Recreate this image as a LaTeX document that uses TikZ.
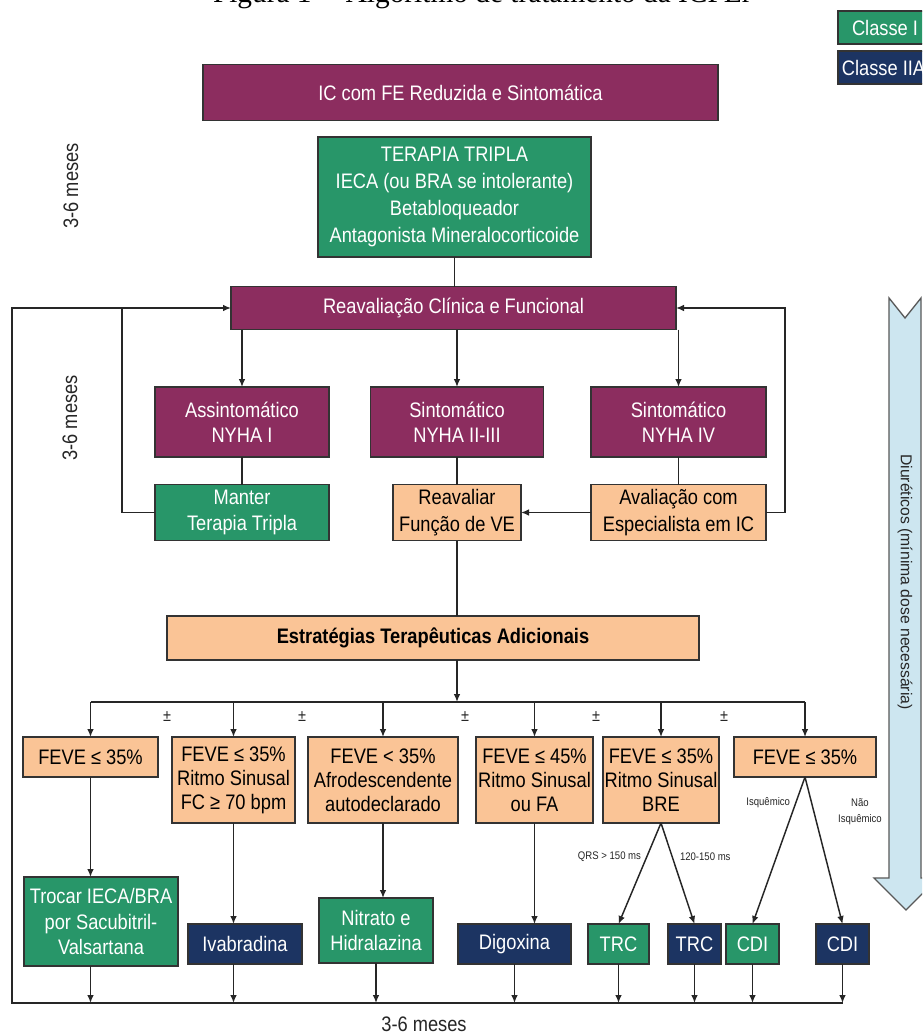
\documentclass[tikz,border=0pt]{standalone}
\usepackage{fontspec}
\setmainfont{Liberation Sans}[FakeStretch=0.87]
\newfontfamily\plainsans{Liberation Sans}
\newfontfamily\capserif{Liberation Serif}
\usetikzlibrary{arrows.meta}
\definecolor{icpurple}{RGB}{140,45,95}
\definecolor{icgreen}{RGB}{40,150,105}
\definecolor{icnavy}{RGB}{28,52,98}
\definecolor{icpeach}{RGB}{250,196,150}
\definecolor{arrowblue}{RGB}{205,230,240}
\begin{document}
\begin{tikzpicture}[x=0.75pt,y=-0.75pt,
  every node/.style={inner sep=0pt, outer sep=0pt},
  sz/.style 2 args={minimum width={#1*0.75pt}, minimum height={#2*0.75pt}},
  bx/.style={draw=black!80, line width=1.3pt, align=center, font=\fontsize{15.75}{19}\selectfont},
  pbox/.style={bx, fill=icpurple, text=white},
  gbox/.style={bx, fill=icgreen, text=white},
  nbox/.style={bx, fill=icnavy, text=white},
  obox/.style={bx, fill=icpeach, text=black, font=\fontsize{15.75}{18}\selectfont},
  conn/.style={draw=black!85, line width=1.1pt},
  arr/.style={conn, -{Latex[length=6pt,width=5pt]}},
  lbl/.style={font=\fontsize{15.75}{19}\selectfont, text=black!85},
  small/.style={font=\fontsize{8.25}{12}\selectfont, align=center, text=black!85},
  pm/.style={font=\fontsize{12.5}{14}\selectfont, text=black!85},
]
\useasboundingbox (0,0) rectangle (922,1034);
\fill[white] (0,0) rectangle (922,1034);
\begin{scope}
\clip (0,0) rectangle (922,1034);

% caption (cut off at the top edge)
\node[font=\capserif\fontsize{22}{24}\selectfont, anchor=base west, text=black] (cap) at (213,3) {Figura 1 -- Algoritmo de tratamento da ICFEr};

% legend
\node[gbox, sz={94}{33}] (leg1) at (885,27.5) {Classe I};
\node[nbox, sz={91}{33}] (leg2) at (883.5,67.5) {Classe IIA};

% diuretics arrow
\draw[fill=arrowblue, draw=black!65, line width=1pt]
  (889,298) -- (905,318) -- (921,298) -- (921,878) -- (938,878) -- (906,910)
  -- (874,878) -- (889,878) -- cycle;
\node[font=\plainsans\fontsize{11.8}{14}\selectfont, rotate=-90, text=black!85] (diur) at (905,582) {Diuréticos (mínima dose necessária)};

% main boxes
\node[pbox, sz={515}{56}] (top) at (460.5,92.5) {IC com FE Reduzida e Sintomática};
\node[gbox, sz={273}{120}, font=\fontsize{15.75}{20.25}\selectfont] (tripla) at (454.5,197) {TERAPIA TRIPLA\\IECA (ou BRA se intolerante)\\Betabloqueador\\Antagonista Mineralocorticoide};
\node[pbox, sz={445}{43}] (reav) at (453.5,308) {Reavaliação Clínica e Funcional};
\node[pbox, sz={174}{70}] (assin) at (242,422) {Assintomático\\NYHA I};
\node[pbox, sz={173}{70}] (sint23) at (457,422) {Sintomático\\NYHA II-III};
\node[pbox, sz={175}{70}] (sint4) at (678.5,422) {Sintomático\\NYHA IV};
\node[gbox, sz={174}{56}, font=\fontsize{15.75}{20}\selectfont] (manter) at (242,512.5) {Manter\\Terapia Tripla};
\node[obox, sz={128}{56}, font=\fontsize{15.75}{20}\selectfont] (reavf) at (457,512.5) {Reavaliar\\Função de VE};
\node[obox, sz={175}{56}, font=\fontsize{15.75}{20}\selectfont] (avali) at (678.5,512.5) {Avaliação com\\Especialista em IC};
\node[obox, sz={532}{44}, font=\bfseries\fontsize{15.75}{19}\selectfont] (estrat) at (433,638) {Estratégias Terapêuticas Adicionais};

% criteria boxes
\node[obox, sz={135}{40}] (f1) at (90.5,757) {FEVE ≤ 35\%};
\node[obox, sz={123}{86}] (f2) at (233.5,780) {FEVE ≤ 35\%\\Ritmo Sinusal\\FC ≥ 70 bpm};
\node[obox, sz={150}{86}] (f3) at (383,780) {FEVE < 35\%\\Afrodescendente\\autodeclarado};
\node[obox, sz={117}{86}] (f4) at (534.5,780) {FEVE ≤ 45\%\\Ritmo Sinusal\\ou FA};
\node[obox, sz={116}{86}] (f5) at (661,780) {FEVE ≤ 35\%\\Ritmo Sinusal\\BRE};
\node[obox, sz={142}{40}] (f6) at (805,757) {FEVE ≤ 35\%};

% treatment boxes
\node[gbox, sz={154}{89}] (t1) at (101,921.5) {Trocar IECA/BRA\\por Sacubitril-\\Valsartana};
\node[nbox, sz={114}{40}] (ivab) at (245,944) {Ivabradina};
\node[gbox, sz={114}{65}] (nitr) at (376,930.5) {Nitrato e\\Hidralazina};
\node[nbox, sz={113}{40}] (digo) at (514.5,944) {Digoxina};
\node[gbox, sz={61}{40}] (trc1) at (618.5,944) {TRC};
\node[nbox, sz={53}{40}] (trc2) at (694.5,944) {TRC};
\node[gbox, sz={53}{40}] (cdi1) at (752.5,944) {CDI};
\node[nbox, sz={53}{40}] (cdi2) at (842.5,944) {CDI};

% labels
\node[lbl, rotate=90] (m1) at (71,186) {3-6 meses};
\node[lbl, rotate=90] (m2) at (70,418) {3-6 meses};
\node[lbl] (m3) at (424,1024) {3-6 meses};
\node[pm] (pm1) at (167,717) {±};
\node[pm] (pm2) at (302,717) {±};
\node[pm] (pm3) at (465,717) {±};
\node[pm] (pm4) at (596,717) {±};
\node[pm] (pm5) at (724,717) {±};
\node[small, anchor=east] (qrs) at (641,857) {QRS > 150 ms};
\node[small, anchor=west] (q2) at (680,857) {120-150 ms};
\node[small, anchor=east] (isq) at (790,803) {Isquêmico};
\node[small] (nisq) at (860,812) {Não\\Isquêmico};

% connectors: upper part
\draw[conn] (tripla.south) -- (tripla.south |- reav.north);
\draw[arr] (reav.south -| assin.north) -- (assin.north);
\draw[arr] (reav.south -| sint23.north) -- (sint23.north);
\draw[arr] (reav.south -| sint4.north) -- (sint4.north);
\draw[conn] (assin.south) -- (manter.north);
\draw[conn] (sint23.south) -- (reavf.north);
\draw[conn] (sint4.south) -- (avali.north);
\draw[arr] (avali.west) -- (reavf.east);
\coordinate (ml) at (122,512.5);
\draw[conn] (manter.west) -- (ml) -- (ml |- reav.west);
\coordinate (rr) at (785,512.5);
\draw[arr] (avali.east) -- (rr) -- (rr |- reav.east) -- (reav.east);
\coordinate (bl) at (12,1003);
\draw[arr] (cdi2.south |- bl) -- (bl) -- (bl |- reav.west) -- (reav.west);
\draw[conn] (reavf.south) -- (reavf.south |- estrat.north);

% distribution line
\coordinate (jn) at (457,702);
\draw[arr] (estrat.south -| jn) -- (jn);
\draw[conn] (f1.north |- jn) -- (f6.north |- jn);
\foreach \f in {f1,f2,f3,f4,f5,f6} {
  \draw[arr] (\f.north |- jn) -- (\f.north);
}

% criteria to treatments
\draw[arr] (f1.south) -- (f1.south |- t1.north);
\draw[arr] (f2.south) -- (f2.south |- ivab.north);
\draw[arr] (f3.south) -- (f3.south |- nitr.north);
\draw[arr] (f4.south) -- (f4.south |- digo.north);
\draw[arr] (f5.south) -- (trc1.north);
\draw[arr] (f5.south) -- (trc2.north);
\draw[arr] (f6.south) -- (cdi1.north);
\draw[arr] (f6.south) -- (cdi2.north);

% treatments to bottom line
\draw[arr] (f1.south |- t1.south) -- (f1.south |- bl);
\draw[arr] (f2.south |- ivab.south) -- (f2.south |- bl);
\foreach \t in {nitr,digo,trc1,trc2,cdi1,cdi2} {
  \draw[arr] (\t.south) -- (\t.south |- bl);
}
\end{scope}
\end{tikzpicture}
\end{document}
